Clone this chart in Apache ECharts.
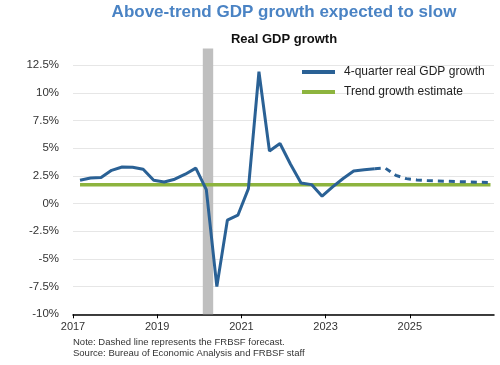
<!DOCTYPE html>
<html><head><meta charset="utf-8">
<script src="https://cdn.jsdelivr.net/npm/echarts@6/dist/echarts.min.js"></script>
<style>html,body{margin:0;padding:0;background:#fff}#c{width:500px;height:365px}</style>
</head><body><div id="c"></div>
<script>
// ---- data ----
const quarters = [
  '2017Q1','2017Q2','2017Q3','2017Q4','2018Q1','2018Q2','2018Q3','2018Q4',
  '2019Q1','2019Q2','2019Q3','2019Q4','2020Q1','2020Q2','2020Q3','2020Q4',
  '2021Q1','2021Q2','2021Q3','2021Q4','2022Q1','2022Q2','2022Q3','2022Q4',
  '2023Q1','2023Q2','2023Q3','2023Q4','2024Q1','2024Q2','2024Q3','2024Q4',
  '2025Q1','2025Q2','2025Q3','2025Q4','2026Q1','2026Q2','2026Q3','2026Q4'
];
// actual: 2017Q1 .. 2024Q1
const actualGrowth = [2.1, 2.3, 2.35, 3.0, 3.3, 3.28, 3.1, 2.1, 1.95, 2.2, 2.65, 3.2,
  1.26, -7.5, -1.5, -1.05, 1.35, 11.9, 4.75, 5.42, 3.55, 1.86, 1.71, 0.66,
  1.5, 2.26, 2.94, 3.05, 3.15];
// forecast: 2024Q1 .. 2026Q4
const forecastStartIndex = 28;
const forecastGrowth = [3.15, 3.2, 2.55, 2.25, 2.13, 2.07, 2.04, 2.01, 1.98, 1.95, 1.92, 1.9];
const trendGrowth = [1.7, 1.7];          // first and last quarter
const recessionSpan = [2020.083, 2020.33]; // Feb 2020 - Apr 2020 (decimal years)
const xTickYears = [2017, 2019, 2021, 2023, 2025];
const yTicks = [-10, -7.5, -5, -2.5, 0, 2.5, 5, 7.5, 10, 12.5];
const seriesNames = ['4-quarter real GDP growth', 'Trend growth estimate'];

function qToYear(q) {
  const y = +q.slice(0, 4), n = +q.slice(5);
  return y + (n - 1) / 4 + 1 / 6;
}
const actualData = actualGrowth.map((v, i) => [qToYear(quarters[i]), v]);
const forecastData = forecastGrowth.map((v, i) => [qToYear(quarters[forecastStartIndex + i]), v]);
const trendData = [[qToYear(quarters[0]), trendGrowth[0]], [qToYear(quarters[quarters.length - 1]), trendGrowth[1]]];

const BLUE = '#2a6195', GREEN = '#8db43e', FONT = 'Liberation Sans, Arial, sans-serif';

const chart = echarts.init(document.getElementById('c'), null, {renderer: 'canvas'});
chart.setOption({
  animation: false,
  backgroundColor: '#fff',
  title: [
    {text: 'Above-trend GDP growth expected to slow', left: 284, top: 4, textAlign: 'center', padding: 0,
     textStyle: {fontFamily: FONT, fontSize: 17, fontWeight: 'bold', color: '#4a83c4'}},
    {text: 'Real GDP growth', left: 284, top: 33, textAlign: 'center', padding: 0,
     textStyle: {fontFamily: FONT, fontSize: 13, fontWeight: 'bold', color: '#111'}},
    {text: 'Note: Dashed line represents the FRBSF forecast.\nSource: Bureau of Economic Analysis and FRBSF staff',
     left: 73, top: 337.5, padding: 0,
     textStyle: {fontFamily: FONT, fontSize: 9.5, lineHeight: 10.5, fontWeight: 'normal', color: '#333'}}
  ],
  legend: {
    data: seriesNames, orient: 'vertical', left: 302, top: 66, icon: 'rect', padding: 0,
    itemWidth: 33, itemHeight: 4, itemGap: 8,
    textStyle: {fontFamily: FONT, fontSize: 12, color: '#222', padding: [0, 0, 0, 4]}
  },
  grid: {left: 73, right: 6, top: 48.5, bottom: 50.7},
  xAxis: {
    type: 'value', min: 2017, max: 2027, interval: 2,
    axisLine: {onZero: false, lineStyle: {color: '#000', width: 1.5}},
    axisTick: {show: true, length: 4, lineStyle: {color: '#000'}, customValues: xTickYears},
    axisLabel: {customValues: xTickYears, fontFamily: FONT, fontSize: 11, color: '#333', margin: 7,
      formatter: v => String(v)},
    splitLine: {show: false}
  },
  yAxis: {
    type: 'value', min: -10, max: 14, interval: 2.5,
    axisLine: {show: false}, axisTick: {show: false},
    axisLabel: {fontFamily: FONT, fontSize: 11.5, color: '#333', margin: 14,
      customValues: yTicks, formatter: v => v + '%'},
    splitLine: {showMaxLine: false, lineStyle: {color: '#e6e6e6', width: 1}}
  },
  series: [
    {name: seriesNames[0], type: 'line', data: actualData, showSymbol: false, symbol: 'none',
     lineStyle: {color: BLUE, width: 3}, itemStyle: {color: BLUE}, z: 4,
     markArea: {silent: true, itemStyle: {color: '#bfbfbf'}, z: 1,
       data: [[{xAxis: recessionSpan[0]}, {xAxis: recessionSpan[1]}]]}},
    {name: seriesNames[0] + ' (forecast)', type: 'line', data: forecastData, showSymbol: false, symbol: 'none',
     lineStyle: {color: BLUE, width: 3, type: [6, 5]}, itemStyle: {color: BLUE}, z: 4},
    {name: seriesNames[1], type: 'line', data: trendData, showSymbol: false, symbol: 'none',
     lineStyle: {color: GREEN, width: 3.5}, itemStyle: {color: GREEN}, z: 3}
  ]
});
</script></body></html>
